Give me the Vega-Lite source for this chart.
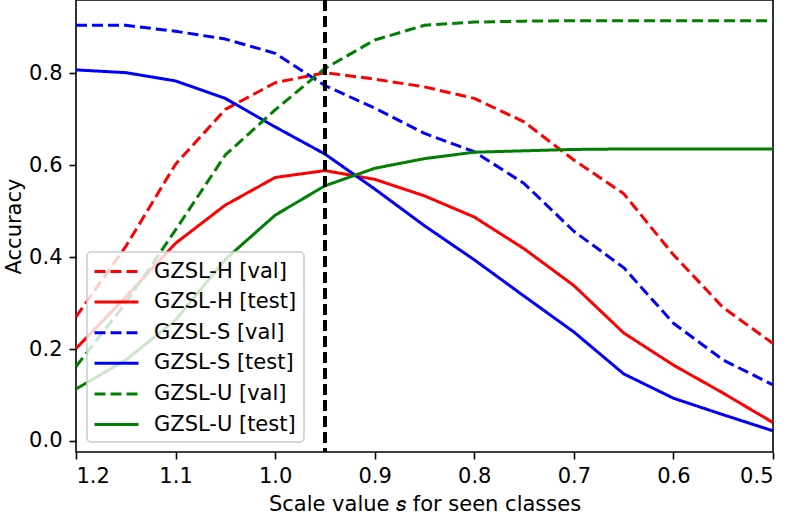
{
  "$schema": "https://vega.github.io/schema/vega-lite/v6.json",
  "width": 697,
  "height": 452,
  "autosize": "none",
  "padding": {"left": 76, "top": 0, "right": 17, "bottom": 64},
  "background": "white",
  "config": {
    "font": "DejaVu Sans",
    "view": {"stroke": "#000000", "strokeWidth": 1.6},
    "axis": {
      "domain": false,
      "grid": false,
      "labelFont": "DejaVu Sans",
      "labelFontSize": 21,
      "labelColor": "#000000",
      "tickColor": "#000000",
      "tickSize": 7,
      "tickWidth": 1.6,
      "titleFont": "DejaVu Sans",
      "titleFontSize": 21,
      "titleFontWeight": "normal",
      "titleColor": "#000000"
    },
    "legend": {
      "orient": "none",
      "legendX": 11,
      "legendY": 252,
      "fillColor": "rgba(255,255,255,0.8)",
      "strokeColor": "#cccccc",
      "strokeWidth": 1.5,
      "cornerRadius": 4,
      "padding": 7,
      "rowPadding": 7.6,
      "labelFont": "DejaVu Sans",
      "labelFontSize": 21,
      "labelColor": "#000000",
      "labelOffset": 35,
      "symbolType": "M-1.09,0H2.91",
      "symbolSize": 484,
      "symbolStrokeWidth": 3
    }
  },
  "data": {
    "values": [
      {"s": 1.2, "k": "GZSL-H [val]", "acc": 0.270},
      {"s": 1.15, "k": "GZSL-H [val]", "acc": 0.423},
      {"s": 1.1, "k": "GZSL-H [val]", "acc": 0.602},
      {"s": 1.05, "k": "GZSL-H [val]", "acc": 0.721},
      {"s": 1.0, "k": "GZSL-H [val]", "acc": 0.779},
      {"s": 0.95, "k": "GZSL-H [val]", "acc": 0.801},
      {"s": 0.9, "k": "GZSL-H [val]", "acc": 0.787},
      {"s": 0.85, "k": "GZSL-H [val]", "acc": 0.770},
      {"s": 0.8, "k": "GZSL-H [val]", "acc": 0.745},
      {"s": 0.75, "k": "GZSL-H [val]", "acc": 0.694},
      {"s": 0.7, "k": "GZSL-H [val]", "acc": 0.611},
      {"s": 0.65, "k": "GZSL-H [val]", "acc": 0.538},
      {"s": 0.6, "k": "GZSL-H [val]", "acc": 0.405},
      {"s": 0.55, "k": "GZSL-H [val]", "acc": 0.290},
      {"s": 0.5, "k": "GZSL-H [val]", "acc": 0.212},
      {"s": 1.2, "k": "GZSL-H [test]", "acc": 0.201},
      {"s": 1.15, "k": "GZSL-H [test]", "acc": 0.313},
      {"s": 1.1, "k": "GZSL-H [test]", "acc": 0.430},
      {"s": 1.05, "k": "GZSL-H [test]", "acc": 0.513},
      {"s": 1.0, "k": "GZSL-H [test]", "acc": 0.573},
      {"s": 0.95, "k": "GZSL-H [test]", "acc": 0.588},
      {"s": 0.9, "k": "GZSL-H [test]", "acc": 0.569},
      {"s": 0.85, "k": "GZSL-H [test]", "acc": 0.533},
      {"s": 0.8, "k": "GZSL-H [test]", "acc": 0.487},
      {"s": 0.75, "k": "GZSL-H [test]", "acc": 0.418},
      {"s": 0.7, "k": "GZSL-H [test]", "acc": 0.338},
      {"s": 0.65, "k": "GZSL-H [test]", "acc": 0.235},
      {"s": 0.6, "k": "GZSL-H [test]", "acc": 0.165},
      {"s": 0.55, "k": "GZSL-H [test]", "acc": 0.104},
      {"s": 0.5, "k": "GZSL-H [test]", "acc": 0.040},
      {"s": 1.2, "k": "GZSL-S [val]", "acc": 0.904},
      {"s": 1.15, "k": "GZSL-S [val]", "acc": 0.904},
      {"s": 1.1, "k": "GZSL-S [val]", "acc": 0.891},
      {"s": 1.05, "k": "GZSL-S [val]", "acc": 0.874},
      {"s": 1.0, "k": "GZSL-S [val]", "acc": 0.843},
      {"s": 0.95, "k": "GZSL-S [val]", "acc": 0.773},
      {"s": 0.9, "k": "GZSL-S [val]", "acc": 0.724},
      {"s": 0.85, "k": "GZSL-S [val]", "acc": 0.669},
      {"s": 0.8, "k": "GZSL-S [val]", "acc": 0.629},
      {"s": 0.75, "k": "GZSL-S [val]", "acc": 0.560},
      {"s": 0.7, "k": "GZSL-S [val]", "acc": 0.456},
      {"s": 0.65, "k": "GZSL-S [val]", "acc": 0.377},
      {"s": 0.6, "k": "GZSL-S [val]", "acc": 0.256},
      {"s": 0.55, "k": "GZSL-S [val]", "acc": 0.176},
      {"s": 0.5, "k": "GZSL-S [val]", "acc": 0.122},
      {"s": 1.2, "k": "GZSL-S [test]", "acc": 0.807},
      {"s": 1.15, "k": "GZSL-S [test]", "acc": 0.801},
      {"s": 1.1, "k": "GZSL-S [test]", "acc": 0.783},
      {"s": 1.05, "k": "GZSL-S [test]", "acc": 0.745},
      {"s": 1.0, "k": "GZSL-S [test]", "acc": 0.683},
      {"s": 0.95, "k": "GZSL-S [test]", "acc": 0.624},
      {"s": 0.9, "k": "GZSL-S [test]", "acc": 0.548},
      {"s": 0.85, "k": "GZSL-S [test]", "acc": 0.468},
      {"s": 0.8, "k": "GZSL-S [test]", "acc": 0.394},
      {"s": 0.75, "k": "GZSL-S [test]", "acc": 0.315},
      {"s": 0.7, "k": "GZSL-S [test]", "acc": 0.237},
      {"s": 0.65, "k": "GZSL-S [test]", "acc": 0.146},
      {"s": 0.6, "k": "GZSL-S [test]", "acc": 0.093},
      {"s": 0.55, "k": "GZSL-S [test]", "acc": 0.057},
      {"s": 0.5, "k": "GZSL-S [test]", "acc": 0.022},
      {"s": 1.2, "k": "GZSL-U [val]", "acc": 0.162},
      {"s": 1.15, "k": "GZSL-U [val]", "acc": 0.300},
      {"s": 1.1, "k": "GZSL-U [val]", "acc": 0.459},
      {"s": 1.05, "k": "GZSL-U [val]", "acc": 0.622},
      {"s": 1.0, "k": "GZSL-U [val]", "acc": 0.720},
      {"s": 0.95, "k": "GZSL-U [val]", "acc": 0.810},
      {"s": 0.9, "k": "GZSL-U [val]", "acc": 0.872},
      {"s": 0.85, "k": "GZSL-U [val]", "acc": 0.904},
      {"s": 0.8, "k": "GZSL-U [val]", "acc": 0.911},
      {"s": 0.75, "k": "GZSL-U [val]", "acc": 0.913},
      {"s": 0.7, "k": "GZSL-U [val]", "acc": 0.914},
      {"s": 0.65, "k": "GZSL-U [val]", "acc": 0.914},
      {"s": 0.6, "k": "GZSL-U [val]", "acc": 0.914},
      {"s": 0.55, "k": "GZSL-U [val]", "acc": 0.914},
      {"s": 0.5, "k": "GZSL-U [val]", "acc": 0.914},
      {"s": 1.2, "k": "GZSL-U [test]", "acc": 0.113},
      {"s": 1.15, "k": "GZSL-U [test]", "acc": 0.176},
      {"s": 1.1, "k": "GZSL-U [test]", "acc": 0.263},
      {"s": 1.05, "k": "GZSL-U [test]", "acc": 0.395},
      {"s": 1.0, "k": "GZSL-U [test]", "acc": 0.491},
      {"s": 0.95, "k": "GZSL-U [test]", "acc": 0.555},
      {"s": 0.9, "k": "GZSL-U [test]", "acc": 0.593},
      {"s": 0.85, "k": "GZSL-U [test]", "acc": 0.614},
      {"s": 0.8, "k": "GZSL-U [test]", "acc": 0.628},
      {"s": 0.75, "k": "GZSL-U [test]", "acc": 0.631},
      {"s": 0.7, "k": "GZSL-U [test]", "acc": 0.634},
      {"s": 0.65, "k": "GZSL-U [test]", "acc": 0.635},
      {"s": 0.6, "k": "GZSL-U [test]", "acc": 0.635},
      {"s": 0.55, "k": "GZSL-U [test]", "acc": 0.635},
      {"s": 0.5, "k": "GZSL-U [test]", "acc": 0.635}
    ]
  },
  "layer": [
    {
      "mark": {"type": "line", "strokeWidth": 3, "strokeCap": "butt", "strokeJoin": "round"},
      "encoding": {
        "x": {
          "field": "s",
          "type": "quantitative",
          "scale": {"domain": [0.5, 1.2], "reverse": true, "nice": false, "zero": false},
          "axis": {
            "values": [0.5, 0.6, 0.7, 0.8, 0.9, 1.0, 1.1, 1.2],
            "format": ".1f",
            "labelPadding": 6,
            "title": "Scale value 𝑠 for seen classes",
            "titlePadding": 7
          }
        },
        "y": {
          "field": "acc",
          "type": "quantitative",
          "scale": {"domain": [-0.024, 0.959], "nice": false, "zero": false},
          "axis": {
            "values": [0, 0.2, 0.4, 0.6, 0.8],
            "format": ".1f",
            "labelPadding": 7,
            "title": "Accuracy",
            "titlePadding": 4
          }
        },
        "color": {
          "field": "k",
          "type": "nominal",
          "scale": {
            "domain": ["GZSL-H [val]", "GZSL-H [test]", "GZSL-S [val]", "GZSL-S [test]", "GZSL-U [val]", "GZSL-U [test]"],
            "range": ["#ff0000", "#ff0000", "#0000ff", "#0000ff", "#008000", "#008000"]
          },
          "legend": {"title": null}
        },
        "strokeDash": {
          "field": "k",
          "type": "nominal",
          "scale": {
            "domain": ["GZSL-H [val]", "GZSL-H [test]", "GZSL-S [val]", "GZSL-S [test]", "GZSL-U [val]", "GZSL-U [test]"],
            "range": [[11, 5], [1, 0], [11, 5], [1, 0], [11, 5], [1, 0]]
          },
          "legend": {"title": null}
        }
      }
    },
    {
      "mark": {"type": "rule", "color": "#000000", "strokeWidth": 3, "strokeDash": [11, 5]},
      "encoding": {"x": {"datum": 0.95, "type": "quantitative"}}
    }
  ]
}
